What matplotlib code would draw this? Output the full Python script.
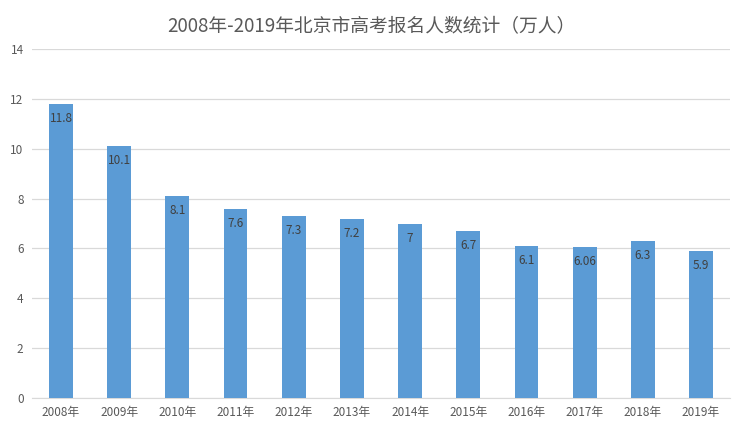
import matplotlib.pyplot as plt
import numpy as np

plt.rcParams['font.family'] = ['Noto Sans CJK SC', 'DejaVu Sans']

years = ['2008年', '2009年', '2010年', '2011年', '2012年', '2013年',
         '2014年', '2015年', '2016年', '2017年', '2018年', '2019年']
values = [11.8, 10.1, 8.1, 7.6, 7.3, 7.2, 7, 6.7, 6.1, 6.06, 6.3, 5.9]
labels = ['11.8', '10.1', '8.1', '7.6', '7.3', '7.2', '7', '6.7', '6.1', '6.06', '6.3', '5.9']

fig = plt.figure(figsize=(7.42, 4.26), dpi=100)
ax = fig.add_axes([0.043, 0.0657, 0.941, 0.8193])

x = np.arange(len(years))
bars = ax.bar(x, values, width=0.41, color='#5b9bd5', zorder=3)

for b, lab in zip(bars, labels):
    ax.text(b.get_x() + b.get_width() / 2, b.get_height() - 0.33, lab,
            ha='center', va='top', fontsize=8.5, color='#404040', zorder=4)

ax.set_xlim(-0.5, len(years) - 0.5)
ax.set_ylim(0, 14)
ax.set_yticks(np.arange(0, 15, 2))
ax.set_xticks(x)
ax.set_xticklabels(years)
ax.grid(axis='y', color='#d9d9d9', linewidth=0.9, zorder=0)
for s in ['top', 'right', 'left']:
    ax.spines[s].set_visible(False)
ax.spines['bottom'].set_color('#d9d9d9')
ax.tick_params(axis='both', length=0, labelsize=8.5, colors='#595959', pad=6)

fig.suptitle('2008年-2019年北京市高考报名人数统计（万人）', fontsize=13.5,
             color='#595959', y=0.965)

fig.savefig('out.png', dpi=100)
